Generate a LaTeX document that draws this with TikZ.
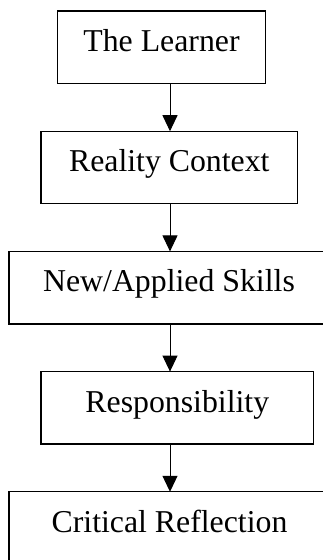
\documentclass[tikz,border=0pt]{standalone}
\usepackage{fontspec}
\setmainfont{Liberation Serif}
\usetikzlibrary{positioning,arrows.meta}

\begin{document}
\begin{tikzpicture}[every node/.style={draw,line width=1.3pt,outer sep=0pt,inner ysep=0pt,
    minimum height=72.5pt,text height=40.5pt,text depth=32pt,
    font=\fontsize{31.8}{38}\selectfont},
  flow/.style={line width=1pt,-{Triangle[length=16pt,width=15pt]}}]
\useasboundingbox (0,0) rectangle (322pt,-560pt);
\coordinate (axis) at (170pt,0);
\node[minimum width=208.4pt] (learner) at (161.5pt,-47.25pt) {The Learner};
\node[minimum width=256.7pt,below=47.7pt of learner,xshift=7.8pt] (context) {Reality Context};
\node[minimum width=320pt,below=47.7pt of context,xshift=-0.3pt] (skills) {New/Applied Skills};%
\node[minimum width=272.7pt,below=47.7pt of skills,xshift=8.3pt] (resp) {Responsibility};
\node[minimum width=321pt,below=47.7pt of resp,xshift=-7.8pt] (reflect) {Critical Reflection};
\draw[flow] (learner.south -| axis) -- (context.north -| axis);
\draw[flow] (context.south -| axis) -- (skills.north -| axis);
\draw[flow] (skills.south -| axis) -- (resp.north -| axis);
\draw[flow] (resp.south -| axis) -- (reflect.north -| axis);
\end{tikzpicture}
\end{document}
